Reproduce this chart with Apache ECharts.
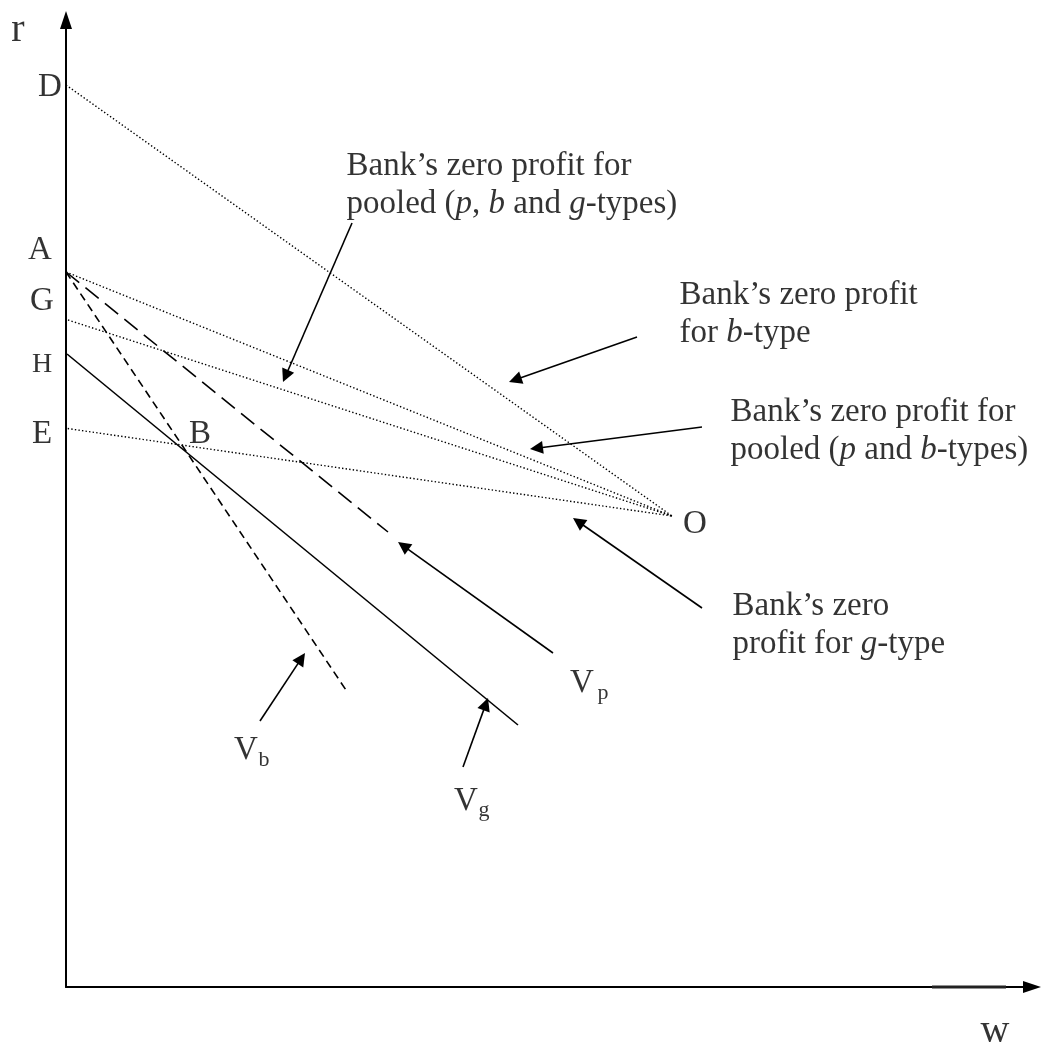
<!DOCTYPE html>
<html>
<head>
<meta charset="utf-8">
<script src="https://cdn.jsdelivr.net/npm/echarts@6/dist/echarts.min.js"></script>
<style>
  html, body { margin: 0; padding: 0; background: #fff; }
  #chart { width: 1052px; height: 1049px; }
</style>
</head>
<body>
<div id="chart"></div>
<script>
// diagram units: origin at the axes corner, r up, w to the right
const pointO = [606, 471]
const interceptD = [0, 902]
const interceptA = [0, 715]
const interceptG = [2, 667]
const interceptE = [-9, 560]

// utility curves: from r-axis intercept to where they stop
const curveVb = [[0, 715], [282, 294]]
const curveVp = [[0, 715], [322, 455]]
const curveVg = [[1, 633], [452, 262]]

// short heavier stroke on the w axis near its end
const axisMark = [[866, 0], [940, 0]]

// pointer arrows, tail -> tip
const arrowTails = [[286, 764], [571, 650], [636, 560], [636, 379], [487, 334], [194, 266], [397, 220]]
const arrowTips = [[217, 605], [443, 605], [464, 538], [507, 469], [332, 445], [239, 334], [422, 289]]

// single letter labels
const letters = ['r', 'w', 'D', 'A', 'G', 'H', 'E', 'B', 'O', 'V', 'V', 'V']
const letterAt = [[-48, 957], [929, -44], [-16, 900], [-26, 737], [-24, 686], [-24, 622], [-24, 553],
  [134, 553], [629, 463], [180, 237], [516, 304], [400, 186]]
const subscripts = ['b', 'p', 'g']
const subscriptAt = [[198, 227], [537, 294], [418, 177]]

// notes
const notes = [
  'Bank’s zero profit for\npooled ({i|p}, {i|b} and {i|g}-types)',
  'Bank’s zero profit\nfor {i|b}-type',
  'Bank’s zero profit for\npooled ({i|p} and {i|b}-types)',
  'Bank’s zero\nprofit for {i|g}-type'
]
const noteAt = [[281, 839], [614, 710], [665, 593], [667, 399]]

const FONT = "'Liberation Serif', 'Times New Roman', serif"

const chart = echarts.init(document.getElementById('chart'), null, { renderer: 'canvas' })

function segment(points, lineStyle) {
  return {
    type: 'line',
    data: points,
    symbol: 'none',
    showSymbol: false,
    clip: false,
    silent: true,
    lineStyle: Object.assign({ color: '#000' }, lineStyle)
  }
}

const dotted = { width: 1.4, type: [1.4, 2.2] }
const ARROW = 13

// pull the line end back so the triangle's tip lands on the tip point
const arrowData = arrowTails.map((tail, i) => {
  const tip = arrowTips[i]
  const dx = tip[0] - tail[0]
  const dy = tip[1] - tail[1]
  const len = Math.hypot(dx, dy)
  const end = [tip[0] - dx / len * ARROW / 2, tip[1] - dy / len * ARROW / 2]
  return { coords: [tail, end] }
})

const letterData = letters.map((t, i) => ({
  value: letterAt[i],
  label: { formatter: t, fontSize: (t === 'r' || t === 'w') ? 40 : (t === 'H' ? 28 : 33) }
}))
subscripts.forEach((t, i) => {
  letterData.push({ value: subscriptAt[i], label: { formatter: t, fontSize: 22 } })
})

chart.setOption({
  animation: false,
  backgroundColor: '#fff',
  grid: { left: 66, right: 20, top: 20, bottom: 62 },
  xAxis: {
    type: 'value',
    min: 0,
    max: 966,
    axisLine: { show: true, symbol: ['none', 'triangle'], symbolSize: [12, 18], lineStyle: { color: '#000', width: 2 } },
    axisTick: { show: false },
    axisLabel: { show: false },
    splitLine: { show: false }
  },
  yAxis: {
    type: 'value',
    min: 0,
    max: 967,
    axisLine: { show: true, symbol: ['none', 'triangle'], symbolSize: [12, 18], lineStyle: { color: '#000', width: 2 } },
    axisTick: { show: false },
    axisLabel: { show: false },
    splitLine: { show: false }
  },
  series: [
    segment([interceptD, pointO], dotted),
    segment([interceptA, pointO], dotted),
    segment([interceptG, pointO], dotted),
    segment([interceptE, pointO], dotted),
    segment(curveVb, { width: 1.6, type: [8, 5] }),
    segment(curveVp, { width: 1.6, type: [17, 8] }),
    segment(curveVg, { width: 1.6 }),
    segment(axisMark, { width: 3, color: '#222' }),
    {
      type: 'lines',
      coordinateSystem: 'cartesian2d',
      silent: true,
      clip: false,
      symbol: ['none', 'triangle'],
      symbolSize: ARROW,
      lineStyle: { color: '#000', width: 1.6, opacity: 1 },
      itemStyle: { color: '#000' },
      data: arrowData
    },
    {
      type: 'scatter',
      clip: false,
      silent: true,
      symbolSize: 1,
      itemStyle: { color: 'rgba(0,0,0,0)' },
      label: {
        show: true,
        position: 'inside',
        align: 'center',
        verticalAlign: 'middle',
        color: '#000',
        fontFamily: FONT
      },
      data: letterData
    },
    {
      type: 'scatter',
      clip: false,
      silent: true,
      symbolSize: 1,
      itemStyle: { color: 'rgba(0,0,0,0)' },
      label: {
        show: true,
        position: [0, 0],
        align: 'left',
        verticalAlign: 'top',
        color: '#000',
        fontFamily: FONT,
        fontSize: 33,
        lineHeight: 38,
        formatter: p => notes[p.dataIndex],
        rich: {
          i: { fontStyle: 'italic', fontFamily: FONT, fontSize: 33, lineHeight: 38, color: '#000' }
        }
      },
      data: noteAt
    }
  ]
})

window.addEventListener('resize', () => chart.resize())
</script>
</body>
</html>
